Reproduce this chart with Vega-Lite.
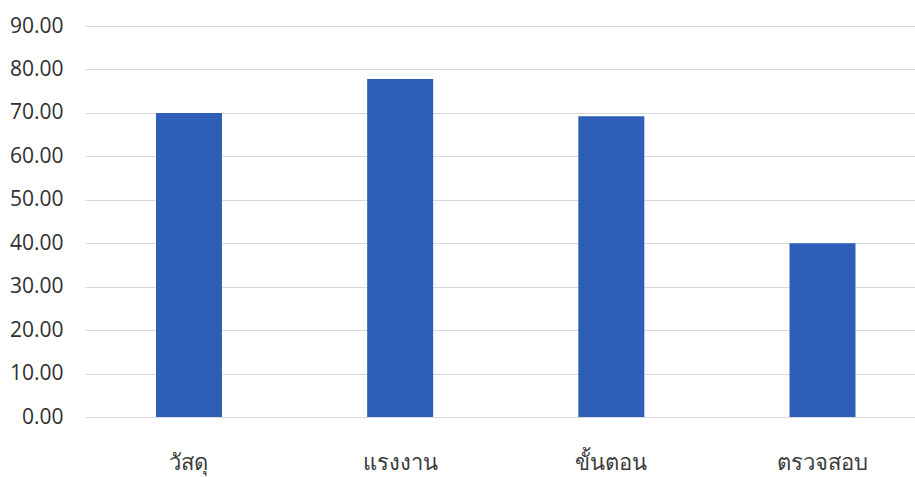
{
  "$schema": "https://vega.github.io/schema/vega-lite/v6.json",
  "width": 830,
  "height": 391,
  "autosize": {"type": "none"},
  "padding": {"left": 85, "top": 26, "right": 0, "bottom": 60},
  "background": "white",
  "data": {
    "values": [
      {"category": "วัสดุ", "score": 70.0},
      {"category": "แรงงาน", "score": 77.8},
      {"category": "ขั้นตอน", "score": 69.2},
      {"category": "ตรวจสอบ", "score": 40.0}
    ]
  },
  "mark": {"type": "bar", "color": "#2d5fb9"},
  "encoding": {
    "x": {
      "field": "category",
      "type": "nominal",
      "sort": null,
      "scale": {"paddingInner": 0.6875, "paddingOuter": 0.309, "align": 0.544},
      "axis": {
        "title": null,
        "domain": false,
        "ticks": false,
        "labelAngle": 0,
        "labelFont": "Noto Sans",
        "labelFontSize": 22,
        "labelFontWeight": 300,
        "labelColor": "#3a3a3a",
        "labelPadding": 35
      }
    },
    "y": {
      "field": "score",
      "type": "quantitative",
      "scale": {"domain": [0, 90], "nice": false},
      "axis": {
        "title": null,
        "values": [0, 10, 20, 30, 40, 50, 60, 70, 80, 90],
        "format": ".2f",
        "domain": false,
        "ticks": false,
        "labelFont": "Open Sans",
        "labelFontSize": 21,
        "labelColor": "#2f2f2f",
        "labelPadding": 22,
        "gridColor": "#d9d9d9",
        "gridWidth": 1
      }
    }
  },
  "config": {"view": {"stroke": null}}
}
